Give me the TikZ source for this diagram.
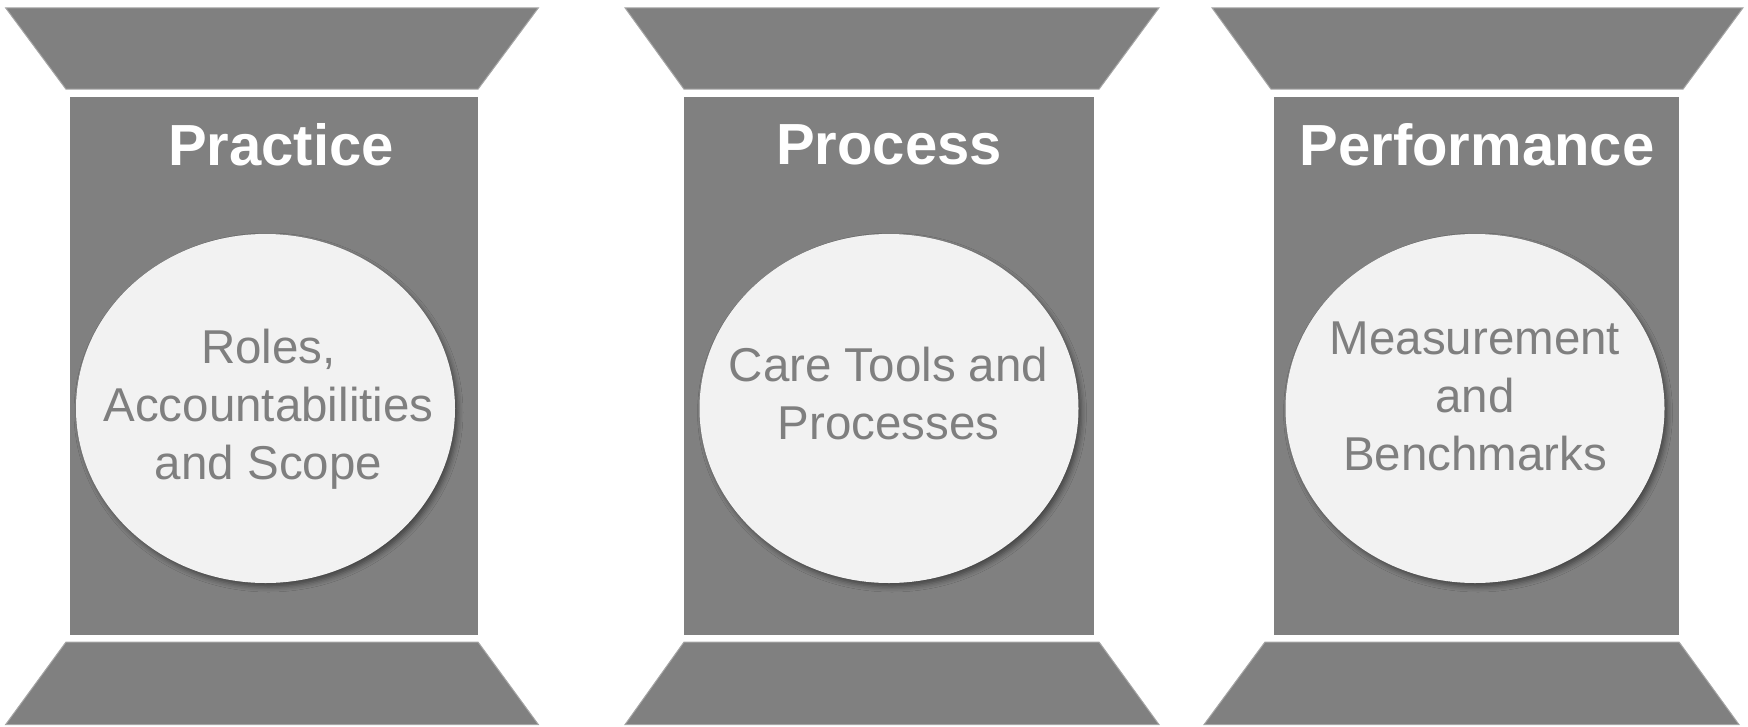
\documentclass[tikz,border=0pt]{standalone}
\usepackage{fontspec}
\setmainfont{Liberation Sans}
\usetikzlibrary{shapes.geometric,shadows.blur}

\definecolor{pillar}{HTML}{808080}
\definecolor{rim}{HTML}{A6A6A6}
\definecolor{disc}{HTML}{F2F2F2}
\definecolor{word}{HTML}{7F7F7F}

\begin{document}
\begin{tikzpicture}[x=1pt,y=-1pt,
  slab/.style={fill=pillar,draw=rim,line width=1pt,line join=miter},
  shaft/.style={fill=pillar},
  disc/.style={ellipse,fill=disc,minimum width=379pt,minimum height=349pt,inner sep=0pt,
    blur shadow={shadow xshift=3pt,shadow yshift=-4pt,shadow blur radius=5pt,shadow opacity=45}},
  title/.style={text=white,font=\fontsize{58}{70}\selectfont\bfseries},
  body/.style={text=word,align=center,font=\fontsize{47.5}{58}\selectfont}]

\useasboundingbox (0,0) rectangle (1748,726);

% left pillar
\draw[slab] (5.6,7.8) -- (538.4,7.8) -- (478,89.2) -- (66,89.2) -- cycle;
\fill[shaft] (70,97) rectangle (478,635.4);
\draw[slab] (66,642) -- (478,642) -- (538.4,724.6) -- (5.6,724.6) -- cycle;
\node[disc](e1) at (265.5,408.5) {};
\node[title](h1) at (281,145) {Practice};
\node[body](t1) at (268.5,409.5) {Roles,\\Accountabilities\\and Scope};

% middle pillar
\draw[slab] (625,7.8) -- (1159,7.8) -- (1099,89.2) -- (684,89.2) -- cycle;
\fill[shaft] (684,97) rectangle (1094,635.4);
\draw[slab] (684,642) -- (1099,642) -- (1159,724.6) -- (625,724.6) -- cycle;
\node[disc](e2) at (889,408.5) {};
\node[title](h2) at (889,145) {Process};
\node[body](t2) at (888.5,393.5) {Care Tools and\\Processes};

% right pillar
\draw[slab] (1212,7.8) -- (1743,7.8) -- (1683,89.2) -- (1271,89.2) -- cycle;
\fill[shaft] (1274,97) rectangle (1679,635.4);
\draw[slab] (1265,642) -- (1679,642) -- (1739,724.6) -- (1204,724.6) -- cycle;
\node[disc](e3) at (1475,408.5) {};
\node[title](h3) at (1477,145) {Performance};
\node[body](t3) at (1475,396.5) {Measurement\\and\\Benchmarks};

\end{tikzpicture}
\end{document}
